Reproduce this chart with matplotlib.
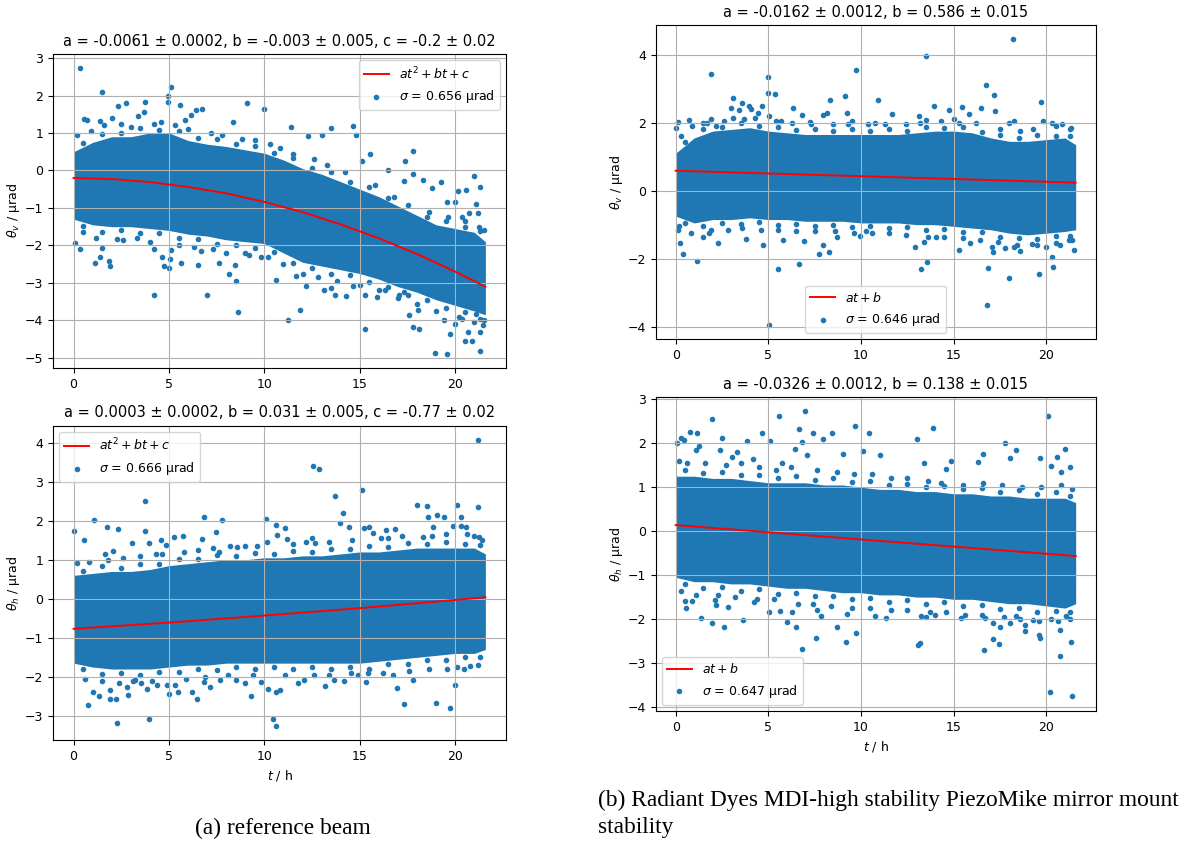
import numpy as np
import matplotlib
matplotlib.use('Agg')
import matplotlib.pyplot as plt

BLUE = '#1f77b4'

# 时间网格 (h)，用于致密散点区域的上下包络
t_core = [0, 1, 2, 3, 4, 5, 6, 7, 8, 9, 10, 11, 12, 13, 14, 15, 16, 17, 18, 19, 20, 21, 21.58]

# ---------------- (a) 参考光束, theta_v ----------------
tl_hi = [0.5, 0.75, 0.9, 0.9, 1.0, 1.0, 0.8, 0.7, 0.64, 0.55, 0.46, 0.28, 0.05, -0.1, -0.3,
         -0.5, -0.7, -0.95, -1.2, -1.45, -1.55, -1.65, -1.9]
tl_lo = [-1.3, -1.45, -1.5, -1.5, -1.55, -1.6, -1.7, -1.75, -1.85, -1.9, -1.95, -2.2, -2.45,
         -2.55, -2.65, -2.75, -2.9, -3.1, -3.25, -3.45, -3.6, -3.75, -3.85]
tl_out = [(0.33, 2.73), (1.51, 2.10), (5.11, 2.24), (4.96, 1.98), (4.96, 1.82), (5.6, 1.74), (3.74, 1.82),
          (2.33, 1.73), (2.73, 1.79), (9.08, 1.79), (10.0, 1.64), (6.71, 1.64), (6.43, 1.60), (6.17, 1.49),
          (5.86, 1.35), (0.56, 1.38), (0.7, 1.35), (1.39, 1.33), (2.03, 1.39), (3.39, 1.46), (3.69, 1.56),
          (8.38, 1.30), (11.37, 1.16), (13.48, 1.12), (14.64, 1.19), (14.78, 0.95), (13.04, 0.95),
          (12.3, 0.91), (15.51, 0.44), (15.11, 0.26), (17.77, 0.53), (17.37, 0.26), (16.47, 0.02),
          (17.81, -0.09), (17.3, -0.27), (18.3, -0.25), (18.78, -0.48), (19.27, -0.31), (19.57, -0.83),
          (19.97, -0.85), (20.12, -0.56), (20.96, -0.16), (20.59, -0.52), (21.3, -0.43), (21.1, -0.89),
          (20.33, -1.23), (20.71, -1.14), (21.18, -1.14), (21.25, -1.5),
          (1.13, -2.48), (1.36, -2.30), (1.51, -2.06), (1.83, -2.41), (1.9, -2.54), (0.07, -1.94),
          (0.31, -2.10), (2.28, -1.84), (4.23, -2.10), (4.23, -3.33), (4.61, -2.32), (4.73, -2.54),
          (4.99, -2.61), (5.03, -2.35), (5.13, -2.12), (5.62, -2.47), (6.53, -2.52), (7.0, -3.33),
          (6.66, -2.14), (7.62, -2.46), (8.12, -2.76), (8.47, -2.51), (8.52, -2.95), (8.63, -3.78),
          (9.2, -2.26), (9.81, -2.30), (10.63, -2.92), (11.25, -4.0), (11.88, -3.73), (11.63, -2.82),
          (12.16, -3.07), (13.11, -3.2), (13.5, -3.13), (13.7, -3.33), (14.3, -3.34), (14.64, -3.07),
          (15.29, -4.24), (15.29, -3.33), (15.88, -3.38), (16.33, -3.19), (17.03, -3.33), (17.29, -3.25),
          (17.6, -3.86), (17.77, -4.18), (18.12, -4.23), (18.03, -3.73), (18.92, -4.87), (19.57, -4.91),
          (19.72, -4.35), (19.41, -3.99), (19.97, -4.1), (20.49, -4.56), (20.87, -4.54), (20.66, -4.32),
          (21.29, -4.30), (21.3, -4.83), (21.46, -4.13), (20.38, -3.95), (21.1, -3.82)]
tl_edge = [(0.5, 0.72), (1.5, 0.98), (2.5, 1.0), (3.5, 1.14), (4.5, 1.08), (5.5, 1.04), (6.5, 0.86), (7.5, 0.83),
           (8.5, 0.7), (9.5, 0.66), (10.5, 0.47), (11.5, 0.34), (12.5, 0.07), (13.5, -0.04), (14.5, -0.3),
           (15.5, -0.44), (16.5, -0.73), (17.5, -0.91), (18.5, -1.23), (19.5, -1.34), (20.5, -1.5),
           (21.3, -1.62),
           (0.2, 0.95), (0.9, 1.05), (1.6, 1.2), (2.5, 1.25), (3.0, 1.15), (4.2, 1.25), (4.6, 1.3), (5.3, 1.2),
           (6.0, 1.1), (7.2, 1.0), (7.8, 0.95), (8.8, 0.85), (9.5, 0.8), (10.3, 0.7), (10.8, 0.6), (11.5, 0.45),
           (12.6, 0.3), (13.3, 0.15), (14.2, -0.05), (15.8, -0.4), (16.8, -0.7), (18.6, -1.1), (19.6, -1.25),
           (20.5, -1.35), (21.5, -1.6),
           (0.5, -1.47), (1.5, -1.63), (2.5, -1.6), (3.5, -1.68), (4.5, -1.67), (5.5, -1.8), (6.5, -1.83),
           (7.5, -1.95), (8.5, -1.98), (9.5, -2.08), (10.5, -2.17), (11.5, -2.48), (12.5, -2.6), (13.5, -2.75),
           (14.5, -2.8), (15.5, -2.98), (16.5, -3.1), (17.5, -3.33), (18.5, -3.45), (19.5, -3.68),
           (20.5, -3.78), (21.3, -3.95),
           (0.5, -1.65), (1.2, -1.8), (2.6, -1.85), (3.3, -1.8), (4.0, -1.9), (5.5, -2.0), (6.3, -2.05),
           (7.3, -2.1), (8.0, -2.2), (9.0, -2.2), (10.2, -2.3), (11.0, -2.5), (12.0, -2.75), (12.8, -2.85),
           (13.8, -2.95), (15.0, -3.05), (16.0, -3.2), (17.0, -3.4), (18.0, -3.55), (19.0, -3.75),
           (20.2, -3.9), (21.0, -4.05), (21.5, -4.0)]
tl_fit_t = [0, 2, 4, 6, 8, 10, 12, 14, 16, 18, 20, 21.58]
tl_fit_v = [-0.2, -0.23, -0.31, -0.44, -0.61, -0.84, -1.11, -1.44, -1.81, -2.23, -2.70, -3.10]

# ---------------- (a) 参考光束, theta_h ----------------
bl_hi = [0.6, 0.65, 0.7, 0.7, 0.75, 0.85, 0.9, 0.95, 1.0, 1.0, 1.05, 1.05, 1.1, 1.1, 1.15, 1.2,
         1.2, 1.25, 1.3, 1.3, 1.3, 1.3, 1.15]
bl_lo = [-1.65, -1.75, -1.8, -1.8, -1.8, -1.75, -1.7, -1.7, -1.65, -1.65, -1.65, -1.65, -1.65,
         -1.65, -1.65, -1.65, -1.6, -1.55, -1.5, -1.45, -1.4, -1.4, -1.3]
bl_out = [(0.03, 1.75), (0.17, 0.91), (0.52, 1.51), (1.08, 2.01), (1.77, 1.85), (2.33, 1.80),
          (2.09, 1.23), (1.65, 1.15), (3.08, 1.42), (3.72, 2.51), (3.76, 1.74), (3.97, 1.44),
          (4.56, 1.50), (4.61, 1.15), (4.82, 1.38), (5.25, 1.59), (5.74, 1.61), (6.82, 2.09), (6.71, 1.54),
          (7.48, 1.72), (7.77, 2.02), (7.6, 1.21), (8.59, 1.33), (8.96, 1.36), (10.07, 2.04), (10.16, 1.46),
          (10.61, 1.89), (10.68, 1.63), (11.08, 1.81), (11.17, 1.53), (12.56, 3.40), (12.87, 3.32),
          (12.47, 1.56), (12.64, 1.42), (13.72, 2.63), (14.12, 2.21), (13.98, 1.93), (14.43, 1.83),
          (15.13, 2.78), (15.23, 1.82), (15.46, 1.85), (15.69, 1.69), (16.35, 1.76), (16.87, 1.79),
          (16.47, 1.55), (18.02, 2.40), (18.5, 2.38), (18.56, 2.09), (19.06, 2.15), (19.39, 2.09),
          (18.83, 1.85), (18.3, 1.59), (20.1, 2.40), (20.3, 2.09), (20.56, 1.85), (20.28, 1.86),
          (20.97, 1.61), (21.22, 2.34), (21.22, 4.06), (21.25, 1.58), (19.91, 1.86),
          (0.78, -2.71), (1.04, -2.38), (1.34, -2.50), (1.9, -2.56), (1.91, -2.34), (2.21, -2.56),
          (2.30, -3.18), (2.85, -2.46), (2.78, -2.26), (3.22, -2.09), (3.51, -2.17), (3.86, -2.31),
          (3.93, -3.08), (4.35, -2.21), (4.87, -2.22), (5.01, -2.44), (5.34, -2.21), (5.48, -2.38),
          (6.21, -2.38), (6.47, -2.56), (6.82, -2.13), (7.13, -2.26), (7.65, -2.09), (8.52, -2.09),
          (8.99, -2.17), (9.29, -2.50), (9.83, -2.13), (10.43, -3.09), (10.63, -3.26), (10.59, -2.38),
          (10.82, -2.34), (10.17, -2.31), (11.77, -2.17), (12.07, -2.09), (13.18, -2.23), (13.67, -2.09),
          (14.16, -2.10), (14.52, -1.91), (15.34, -2.13), (15.43, -1.91), (16.94, -2.28), (16.73, -1.96),
          (17.3, -2.70), (17.77, -2.07), (18.99, -2.68), (19.72, -2.81), (19.97, -2.2), (19.57, -1.79),
          (20.8, -1.72), (20.47, -1.80)]
bl_edge = [(0.5, 0.72), (1.5, 0.83), (2.5, 0.8), (3.5, 0.88), (4.5, 0.9), (5.5, 1.03), (6.5, 1.02),
           (7.5, 1.13), (8.5, 1.1), (9.5, 1.18), (10.5, 1.15), (11.5, 1.23), (12.5, 1.2), (13.5, 1.28),
           (14.5, 1.27), (15.5, 1.35), (16.5, 1.33), (17.5, 1.43), (18.5, 1.4), (19.5, 1.45), (20.5, 1.4),
           (21.3, 1.37),
           (0.8, 0.95), (1.8, 1.0), (2.6, 1.05), (3.5, 1.1), (4.3, 1.15), (5.8, 1.2), (6.5, 1.25), (7.3, 1.3),
           (8.2, 1.35), (9.6, 1.35), (11.5, 1.4), (12.2, 1.45), (13.4, 1.45), (14.6, 1.5), (16.1, 1.55),
           (17.2, 1.6), (18.8, 1.6), (19.5, 1.65), (20.6, 1.65), (21.4, 1.5),
           (0.5, -1.8), (1.5, -1.93), (2.5, -1.9), (3.5, -1.95), (4.5, -1.88), (5.5, -1.87), (6.5, -1.8),
           (7.5, -1.83), (8.5, -1.75), (9.5, -1.8), (10.5, -1.75), (11.5, -1.8), (12.5, -1.75),
           (13.5, -1.79), (14.5, -1.75), (15.5, -1.8), (16.5, -1.68), (17.5, -1.67), (18.5, -1.58),
           (19.5, -1.57), (20.5, -1.5), (21.3, -1.49),
           (0.6, -2.05), (1.5, -2.1), (2.4, -2.15), (3.1, -2.1), (4.1, -2.1), (5.9, -2.05), (6.9, -2.0),
           (8.1, -1.95), (9.4, -1.95), (11.1, -1.95), (12.6, -1.95), (13.4, -1.95), (14.9, -1.95),
           (16.2, -1.9), (17.6, -1.85), (18.6, -1.8), (20.1, -1.75), (21.2, -1.7)]
bl_fit_t = [0, 5, 10, 15, 20, 21.58]
bl_fit_v = [-0.77, -0.61, -0.43, -0.24, -0.03, 0.04]

# ---------------- (b) PiezoMike 镜架, theta_v ----------------
tr_hi = [1.1, 1.55, 1.75, 1.8, 1.85, 1.75, 1.7, 1.65, 1.65, 1.65, 1.65, 1.65, 1.65, 1.7, 1.75,
         1.75, 1.7, 1.55, 1.45, 1.45, 1.5, 1.55, 1.35]
tr_lo = [-0.75, -0.95, -0.85, -0.85, -0.8, -0.85, -0.85, -0.9, -0.9, -0.9, -0.95, -0.95, -0.95,
         -1.0, -1.0, -1.05, -1.1, -1.15, -1.25, -1.3, -1.25, -1.2, -1.15]
tr_out = [(0.0, 1.85), (0.14, 2.03), (0.74, 2.08), (1.89, 3.44), (1.9, 2.10), (1.46, 2.0), (2.17, 1.90),
          (3.11, 2.73), (2.96, 2.44), (3.07, 2.13), (3.56, 2.57), (3.43, 2.37), (3.97, 2.49), (4.04, 2.39),
          (4.64, 2.49), (4.46, 2.27), (4.98, 3.34), (5.0, 2.88), (5.36, 2.83), (5.05, 2.20), (5.66, 2.06),
          (6.34, 2.42), (6.79, 2.23), (7.24, 2.02), (8.32, 2.65), (8.18, 2.27), (7.96, 2.21), (9.15, 2.79),
          (9.25, 2.28), (9.72, 3.55), (9.49, 2.06), (10.91, 2.66), (10.76, 2.0), (11.66, 2.25),
          (13.51, 3.95), (13.14, 2.20), (13.5, 2.08), (13.91, 2.50), (14.75, 2.37), (15.0, 2.11),
          (15.47, 2.47), (15.83, 2.24), (16.48, 2.42), (16.73, 3.10), (17.16, 2.81), (17.21, 2.33),
          (17.99, 2.0), (18.2, 4.45), (18.24, 2.06), (19.73, 2.61), (19.82, 2.06), (20.32, 1.98),
          (20.86, 1.96), (21.31, 1.83),
          (0.13, -1.16), (0.23, -1.55), (0.4, -1.86), (1.13, -2.07), (1.49, -1.37), (1.78, -1.25),
          (2.30, -1.55), (3.79, -1.41), (4.73, -1.60), (5.03, -3.95), (5.5, -2.29), (5.8, -1.45),
          (6.67, -2.15), (6.94, -1.47), (7.71, -1.85), (7.96, -1.60), (8.28, -1.80), (8.68, -1.37),
          (9.94, -1.33), (10.26, -1.20), (12.9, -1.66), (13.21, -2.31), (13.57, -2.09), (13.39, -1.50),
          (14.07, -1.37), (15.29, -1.75), (15.87, -1.53), (16.82, -3.37), (16.86, -2.28), (17.09, -1.65),
          (17.12, -1.79), (17.75, -1.70), (17.99, -2.56), (18.27, -1.65), (18.56, -1.76), (19.25, -1.58),
          (19.6, -2.45), (20.0, -1.67), (20.32, -1.96), (20.36, -2.24), (20.72, -1.60), (21.47, -1.75),
          (21.22, -1.45)]
tr_edge = [(0.5, 1.42), (1.5, 1.8), (2.5, 1.88), (3.5, 1.98), (4.5, 1.9), (5.5, 1.88), (6.5, 1.78),
           (7.5, 1.8), (8.5, 1.74), (9.5, 1.8), (10.5, 1.75), (11.5, 1.8), (12.5, 1.74), (13.5, 1.88),
           (14.5, 1.85), (15.5, 1.88), (16.5, 1.72), (17.5, 1.65), (18.5, 1.55), (19.5, 1.63), (20.5, 1.62),
           (21.3, 1.6),
           (0.3, 1.6), (0.9, 1.9), (1.7, 2.0), (2.6, 2.05), (3.7, 2.1), (4.3, 2.15), (5.4, 2.05), (6.3, 2.0),
           (7.3, 1.95), (8.5, 1.95), (9.3, 1.95), (10.4, 1.95), (11.3, 1.95), (12.4, 1.95), (13.2, 2.0),
           (14.3, 2.05), (15.3, 2.0), (16.2, 2.0), (17.5, 1.8), (18.6, 1.75), (19.3, 1.8), (20.5, 1.9),
           (21.3, 1.8),
           (0.5, -0.95), (1.5, -1.05), (2.5, -0.95), (3.5, -0.98), (4.5, -0.93), (5.5, -1.0), (6.5, -0.98),
           (7.5, -1.05), (8.5, -1.0), (9.5, -1.08), (10.5, -1.05), (11.5, -1.1), (12.5, -1.08),
           (13.5, -1.15), (14.5, -1.13), (15.5, -1.23), (16.5, -1.22), (17.5, -1.35), (18.5, -1.38),
           (19.5, -1.43), (20.5, -1.33), (21.3, -1.32),
           (0.2, -1.05), (0.8, -1.25), (1.9, -1.15), (2.8, -1.15), (3.6, -1.1), (4.6, -1.15), (5.5, -1.15),
           (6.5, -1.2), (7.5, -1.2), (8.6, -1.2), (9.6, -1.25), (10.6, -1.25), (11.5, -1.25), (12.4, -1.3),
           (13.6, -1.35), (14.5, -1.35), (15.5, -1.4), (16.4, -1.45), (17.4, -1.5), (18.4, -1.6),
           (19.5, -1.6), (20.5, -1.55), (21.4, -1.45)]
tr_fit_t = [0, 21.58]
tr_fit_v = [0.586, 0.236]

# ---------------- (b) PiezoMike 镜架, theta_h ----------------
br_hi = [1.25, 1.25, 1.2, 1.2, 1.15, 1.1, 1.1, 1.1, 1.05, 1.05, 1.0, 0.95, 0.95, 0.9, 0.9, 0.85,
         0.85, 0.8, 0.8, 0.75, 0.75, 0.75, 0.65]
br_lo = [-1.05, -1.15, -1.15, -1.2, -1.2, -1.25, -1.3, -1.3, -1.35, -1.4, -1.4, -1.45, -1.45, -1.5,
         -1.5, -1.55, -1.55, -1.6, -1.65, -1.65, -1.7, -1.75, -1.65]
br_out = [(0.09, 2.0), (0.27, 2.11), (0.47, 2.08), (0.77, 2.26), (1.13, 2.24), (1.28, 1.94), (1.1, 1.85),
          (1.98, 2.56), (2.48, 2.13), (2.39, 1.85), (3.02, 1.68), (3.29, 1.79), (3.86, 2.06), (4.19, 1.65),
          (4.67, 2.23), (5.09, 2.04), (5.59, 2.62), (5.71, 1.54), (6.42, 1.86), (6.67, 2.32), (6.97, 2.73),
          (6.81, 2.02), (7.42, 2.24), (7.08, 1.74), (7.96, 2.09), (8.46, 2.24), (9.04, 1.76), (9.69, 2.39),
          (10.08, 1.83), (10.44, 2.24), (11.0, 1.73), (13.03, 2.09), (13.89, 2.34), (13.41, 1.56),
          (14.57, 1.41), (14.88, 1.60), (16.59, 1.75), (16.33, 1.58), (17.75, 2.0), (18.35, 1.85),
          (18.06, 1.66), (19.64, 1.66), (20.09, 2.61), (20.27, 1.49), (20.58, 1.68), (20.99, 1.86),
          (20.77, 1.35), (21.26, 1.45),
          (0.52, -1.59), (0.57, -1.75), (0.86, -1.59), (1.37, -1.98), (1.98, -2.08), (2.12, -1.56),
          (2.17, -1.69), (2.62, -2.17), (2.8, -1.72), (3.65, -2.02), (4.22, -1.62), (5.03, -1.85),
          (5.64, -1.81), (5.98, -2.07), (6.25, -1.84), (6.49, -2.17), (6.81, -2.69), (7.58, -2.42),
          (7.64, -1.79), (7.83, -1.93), (8.68, -2.18), (9.18, -2.52), (9.24, -1.88), (9.72, -2.32),
          (10.78, -1.94), (11.37, -1.97), (13.08, -2.59), (13.17, -2.55), (13.23, -1.94),
          (13.53, -1.96), (13.98, -1.91), (15.42, -1.98), (16.64, -2.70), (16.68, -1.97),
          (17.12, -2.09), (17.12, -2.46), (17.45, -2.57), (17.52, -2.19), (18.02, -2.08), (18.38, -1.94),
          (18.83, -2.13), (18.87, -2.27), (19.6, -2.36), (19.64, -2.44), (19.28, -2.02), (20.22, -3.65),
          (20.27, -2.0), (20.75, -2.84), (20.75, -2.25), (21.08, -1.94), (21.35, -2.51), (21.38, -3.76)]
br_edge = [(0.5, 1.4), (1.5, 1.32), (2.5, 1.35), (3.5, 1.27), (4.5, 1.28), (5.5, 1.2), (6.5, 1.25),
           (7.5, 1.17), (8.5, 1.2), (9.5, 1.12), (10.5, 1.13), (11.5, 1.04), (12.5, 1.08), (13.5, 1.0),
           (14.5, 1.03), (15.5, 0.95), (16.5, 0.98), (17.5, 0.9), (18.5, 0.93), (19.5, 0.85), (20.5, 0.9),
           (21.3, 0.8),
           (0.2, 1.6), (0.6, 1.55), (1.6, 1.55), (2.7, 1.5), (3.5, 1.55), (4.5, 1.45), (5.4, 1.4), (6.2, 1.45),
           (7.6, 1.4), (8.7, 1.35), (9.6, 1.3), (10.6, 1.3), (11.6, 1.2), (12.5, 1.2), (13.6, 1.15),
           (14.3, 1.1), (15.5, 1.05), (16.6, 1.1), (17.6, 1.05), (18.7, 1.0), (19.7, 1.0), (20.8, 1.05),
           (21.4, 0.95),
           (0.5, -1.2), (1.5, -1.3), (2.5, -1.27), (3.5, -1.35), (4.5, -1.32), (5.5, -1.43), (6.5, -1.4),
           (7.5, -1.48), (8.5, -1.47), (9.5, -1.55), (10.5, -1.52), (11.5, -1.6), (12.5, -1.57),
           (13.5, -1.65), (14.5, -1.62), (15.5, -1.7), (16.5, -1.68), (17.5, -1.78), (18.5, -1.75),
           (19.5, -1.83), (20.5, -1.82), (21.3, -1.85),
           (0.3, -1.35), (1.1, -1.45), (2.3, -1.45), (3.2, -1.5), (4.4, -1.55), (5.3, -1.55), (6.6, -1.65),
           (7.4, -1.65), (8.4, -1.7), (9.5, -1.75), (10.5, -1.75), (11.6, -1.8), (12.5, -1.8), (13.7, -1.85),
           (14.6, -1.85), (15.6, -1.9), (16.5, -1.9), (17.7, -1.95), (18.6, -2.0), (19.6, -2.05),
           (20.6, -2.05), (21.3, -2.0)]
br_fit_t = [0, 21.58]
br_fit_v = [0.138, -0.566]


def draw_panel(rect, hi, lo, out, edge, fit_t, fit_v, title, ylabel, fit_label, sigma, loc, ylim, yticks,
               xlabel=False):
    ax = fig.add_axes(rect)
    ax.fill_between(t_core, lo, hi, color=BLUE, linewidth=0)
    pt, pv = zip(*(out + edge))
    sc = ax.scatter(pt, pv, s=9, color=BLUE, label=r'$\sigma$ = %s µrad' % sigma)
    ln, = ax.plot(fit_t, fit_v, color='red', lw=1.4, label=fit_label, zorder=3)
    ax.grid(True)
    ax.set_xlim(-1.08, 22.66)
    ax.set_ylim(*ylim)
    ax.set_xticks([0, 5, 10, 15, 20])
    ax.set_yticks(yticks)
    ax.tick_params(labelsize=9)
    ax.set_title(title, fontsize=10.5)
    ax.set_ylabel(ylabel, fontsize=9, labelpad=2)
    if xlabel:
        ax.set_xlabel(r'$t$ / h', fontsize=9)
    ax.legend(handles=[ln, sc], loc=loc, fontsize=9)
    return ax


fig = plt.figure(figsize=(11.88, 8.44), dpi=100)

draw_panel([0.0446, 0.5640, 0.3813, 0.3720], tl_hi, tl_lo, tl_out, tl_edge, tl_fit_t, tl_fit_v,
           'a = -0.0061 ± 0.0002, b = -0.003 ± 0.005, c = -0.2 ± 0.02', r'$\theta_v$ / µrad',
           r'$at^2 + bt + c$', '0.656', 'upper right', (-5.27, 3.107), range(-5, 4))
draw_panel([0.0446, 0.1232, 0.3813, 0.3724], bl_hi, bl_lo, bl_out, bl_edge, bl_fit_t, bl_fit_v,
           'a = 0.0003 ± 0.0002, b = 0.031 ± 0.005, c = -0.77 ± 0.02', r'$\theta_h$ / µrad',
           r'$at^2 + bt + c$', '0.666', 'upper left', (-3.62, 4.436), range(-3, 5), xlabel=True)
draw_panel([0.5519, 0.5980, 0.3704, 0.3724], tr_hi, tr_lo, tr_out, tr_edge, tr_fit_t, tr_fit_v,
           'a = -0.0162 ± 0.0012, b = 0.586 ± 0.015', r'$\theta_v$ / µrad',
           r'$at + b$', '0.646', 'lower center', (-4.37, 4.87), [-4, -2, 0, 2, 4])
draw_panel([0.5519, 0.1576, 0.3704, 0.3717], br_hi, br_lo, br_out, br_edge, br_fit_t, br_fit_v,
           'a = -0.0326 ± 0.0012, b = 0.138 ± 0.015', r'$\theta_h$ / µrad',
           r'$at + b$', '0.647', 'lower left', (-4.09, 3.045), range(-4, 4), xlabel=True)

# 子图说明文字
fig.text(283 / 1188, 1 - 828 / 844, '(a) reference beam', family='Liberation Serif',
         fontsize=16.8, ha='center', va='center')
fig.text(598 / 1188, 1 - 800 / 844, '(b) Radiant Dyes MDI-high stability PiezoMike mirror mount',
         family='Liberation Serif', fontsize=16.8, ha='left', va='center')
fig.text(598 / 1188, 1 - 828 / 844, 'stability', family='Liberation Serif',
         fontsize=16.8, ha='left', va='center')

fig.savefig('out.png', dpi=100)
